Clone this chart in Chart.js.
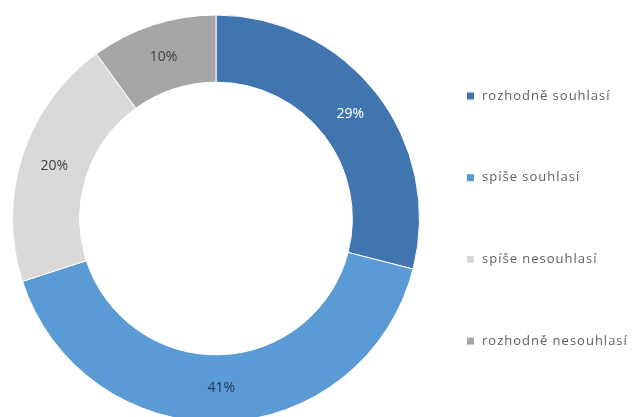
<!DOCTYPE html>
<html>
<head>
<meta charset="utf-8">
<script src="https://cdn.jsdelivr.net/npm/chart.js@4"></script>
<style>
  html, body { margin: 0; padding: 0; background: #ffffff; overflow: hidden; }
  /* the ring runs slightly past the bottom edge, so the canvas is a bit taller than the window */
  #wrap { width: 641px; height: 423px; position: relative; }
</style>
</head>
<body>
<div id="wrap"><canvas id="chart"></canvas></div>
<script>
// Survey answers and their shares (percent)
const categories = ['rozhodně souhlasí', 'spíše souhlasí', 'spíše nesouhlasí', 'rozhodně nesouhlasí'];
const shares = [29, 41, 20, 10];
const sliceColors = ['#4175AF', '#5B9BD5', '#D9D9D9', '#A6A6A6'];
const valueLabelColors = ['#FFFFFF', '#1F3556', '#404040', '#404040'];

// Percent labels placed in the middle of each ring segment
const sliceLabels = {
  id: 'sliceLabels',
  afterDatasetsDraw(chart) {
    const ctx = chart.ctx;
    const meta = chart.getDatasetMeta(0);
    const values = chart.data.datasets[0].data;
    ctx.save();
    ctx.font = '14px "Open Sans", sans-serif';
    ctx.textAlign = 'center';
    ctx.textBaseline = 'middle';
    meta.data.forEach((arc, i) => {
      const p = arc.tooltipPosition();
      ctx.fillStyle = valueLabelColors[i];
      ctx.fillText(values[i] + '%', p.x, p.y);
    });
    ctx.restore();
  }
};

// Legend listed down the right-hand side
const sideLegend = {
  id: 'sideLegend',
  afterDraw(chart, args, opts) {
    const ctx = chart.ctx;
    const colors = chart.data.datasets[0].backgroundColor;
    ctx.save();
    ctx.font = '13px "Open Sans", sans-serif';
    ctx.textAlign = 'left';
    ctx.textBaseline = 'middle';
    if ('letterSpacing' in ctx) ctx.letterSpacing = opts.letterSpacing;
    chart.data.labels.forEach((label, i) => {
      const y = opts.top + i * opts.step;
      ctx.fillStyle = colors[i];
      ctx.fillRect(opts.left, y - opts.box / 2, opts.box, opts.box);
      ctx.fillStyle = '#5F5F5F';
      ctx.fillText(label, opts.left + opts.box + 8, y);
    });
    ctx.restore();
  }
};

new Chart(document.getElementById('chart'), {
  type: 'doughnut',
  data: {
    labels: categories,
    datasets: [{
      data: shares,
      backgroundColor: sliceColors,
      borderColor: '#FFFFFF',
      borderWidth: 1
    }]
  },
  options: {
    responsive: true,
    maintainAspectRatio: false,
    animation: false,
    cutout: '67%',
    layout: { padding: { left: 12, top: 14, right: 221, bottom: 0 } },
    plugins: {
      legend: { display: false },
      tooltip: { enabled: false },
      sideLegend: { left: 467, top: 96, step: 81.7, box: 7, letterSpacing: '1px' }
    }
  },
  plugins: [sliceLabels, sideLegend]
});
</script>
</body>
</html>
